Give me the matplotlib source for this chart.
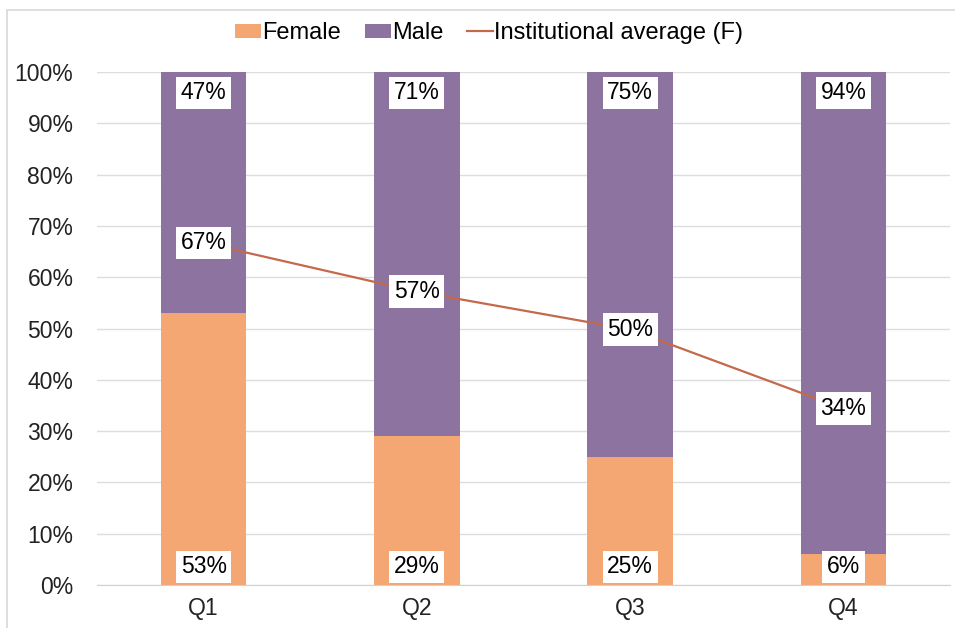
import matplotlib.pyplot as plt
from matplotlib.patches import Rectangle
from matplotlib.ticker import PercentFormatter

plt.rcParams['font.family'] = ['Liberation Sans', 'DejaVu Sans']

# ----- data ---------------------------------------------------------------
quartiles = ["Q1", "Q2", "Q3", "Q4"]
female = [0.53, 0.29, 0.25, 0.06]
male = [0.47, 0.71, 0.75, 0.94]
inst_avg = [0.667, 0.572, 0.498, 0.344]   # institutional average (F)

C_FEMALE = "#F4A673"
C_MALE = "#8D73A0"
C_LINE = "#C4694B"

fig = plt.figure(figsize=(9.55, 6.28), dpi=100)
ax = fig.add_axes([97 / 955, 1 - 585 / 628, 853 / 955, 513 / 628])

x = list(range(len(quartiles)))
b1 = ax.bar(x, female, width=0.4, color=C_FEMALE, label="Female", zorder=2)
b2 = ax.bar(x, male, width=0.4, bottom=female, color=C_MALE, label="Male", zorder=2)
ln, = ax.plot(x, inst_avg, color=C_LINE, lw=1.6, label="Institutional average (F)", zorder=3)

box = dict(boxstyle="square,pad=0.2", fc="white", ec="none")
for xi, f, m, a in zip(x, female, male, inst_avg):
    ax.annotate(f"{f:.0%}", (xi, 0), xytext=(0, 13), textcoords="offset points",
                ha="center", va="center", fontsize=16.5, bbox=box, zorder=4)
    ax.annotate(f"{m:.0%}", (xi, f + m), xytext=(0, -15), textcoords="offset points",
                ha="center", va="center", fontsize=16.5, bbox=box, zorder=4)
    ax.annotate(f"{a:.0%}", (xi, a), ha="center", va="center", fontsize=16.5,
                bbox=box, zorder=5)

ax.set_xlim(-0.5, 3.5)
ax.set_ylim(0, 1)
ax.set_yticks([i / 10 for i in range(11)])
ax.yaxis.set_major_formatter(PercentFormatter(1.0, decimals=0))
ax.set_xticks(x)
ax.set_xticklabels(quartiles)
ax.tick_params(length=0, labelsize=16.5, colors="#222222")
ax.tick_params(axis="y", pad=17)
ax.tick_params(axis="x", pad=9)
ax.grid(axis="y", color="#DDDDDD", lw=1, zorder=0)
for s in ["top", "right", "left"]:
    ax.spines[s].set_visible(False)
ax.spines["bottom"].set_color("#D0D0D0")

fig.legend([b1, b2, ln], ["Female", "Male", "Institutional average (F)"],
           loc="center", bbox_to_anchor=(0.512, 1 - 33 / 628), ncol=3, frameon=False,
           fontsize=17, handlelength=1.1, handleheight=0.55, handletextpad=0.05,
           columnspacing=1.0)

# thin frame round the chart
fig.patches.append(Rectangle((7 / 955, -0.01), 1.0, 1 - 10 / 628 + 0.01,
                             transform=fig.transFigure, fill=False,
                             ec="#D8D8D8", lw=1.2))

fig.savefig("out.png", dpi=100)
